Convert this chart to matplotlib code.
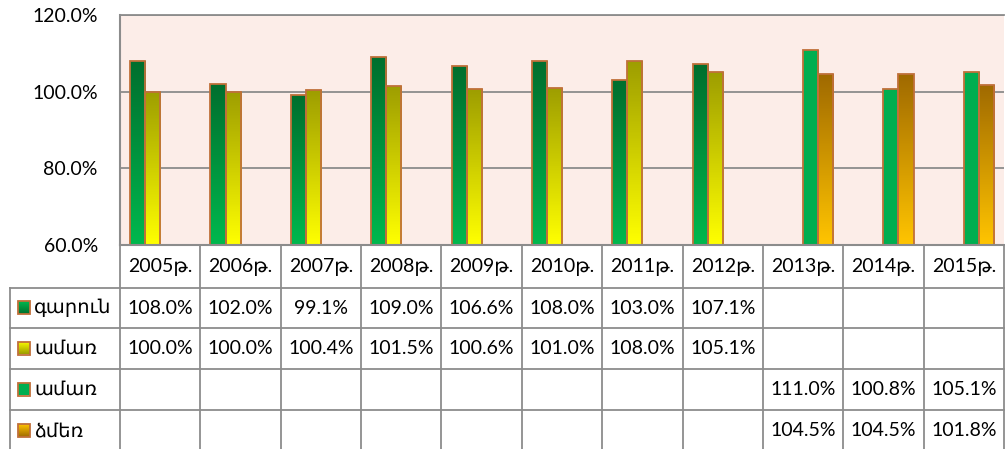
import numpy as np
import matplotlib.pyplot as plt
from matplotlib.colors import LinearSegmentedColormap
from matplotlib.patches import Rectangle

plt.rcParams['font.family'] = ['Lato', 'DejaVu Sans']

years = ['2005թ.', '2006թ.', '2007թ.', '2008թ.', '2009թ.', '2010թ.',
         '2011թ.', '2012թ.', '2013թ.', '2014թ.', '2015թ.']
names = ['գարուն', 'ամառ', 'ամառ', 'ձմեռ']
spring = [108.0, 102.0, 99.1, 109.0, 106.6, 108.0, 103.0, 107.1, None, None, None]
summer = [100.0, 100.0, 100.4, 101.5, 100.6, 101.0, 108.0, 105.1, None, None, None]
summer2 = [None] * 8 + [111.0, 100.8, 105.1]
winter = [None] * 8 + [104.5, 104.5, 101.8]
series = [spring, summer, summer2, winter]

# gradients, (bottom colour, top colour)
grads = [('#00B84E', '#006F2E'), ('#FFFF00', '#9E9E00'),
         ('#00AE50', '#00AE50'), ('#FFC400', '#A06A00')]
edge = '#C0703A'
fs = 14

W, H = 1005, 449
fig = plt.figure(figsize=(W / 100, H / 100), dpi=100)
L, R, T, B = 120, 1004, 15, 245
ax = fig.add_axes([L / W, 1 - B / H, (R - L) / W, (B - T) / H])
ax.set_facecolor('#FCEDE8')

n = len(years)
bw = 0.187
offs = [-1.5, -0.5, 0.5, 1.5]
for s, vals in enumerate(series):
    cm = LinearSegmentedColormap.from_list('g%d' % s, list(grads[s]))
    idx = [i for i, v in enumerate(vals) if v is not None]
    hv = [vals[i] - 60 for i in idx]
    bars = ax.bar(np.array(idx) + offs[s] * bw, hv, bw, bottom=60,
                  facecolor='none', edgecolor=edge, linewidth=1.3, zorder=4)
    for p in bars:
        x0, y0, w, h = p.get_x(), p.get_y(), p.get_width(), p.get_height()
        im = ax.imshow(np.linspace(0, 1, 64).reshape(-1, 1), cmap=cm,
                       extent=[x0, x0 + w, y0, y0 + h], origin='lower',
                       aspect='auto', zorder=3)
        im.set_clip_path(p)

ax.set_xlim(-0.5, n - 0.5)
ax.set_ylim(60, 120)
ax.set_yticks([60, 80, 100, 120])
ax.set_yticklabels(['%.1f%%' % v for v in [60, 80, 100, 120]], fontsize=fs)
ax.tick_params(axis='y', length=0, pad=16)
ax.set_xticks([])
ax.grid(axis='y', color='#8C8C8C', linewidth=1.3, zorder=1)
ax.set_axisbelow(True)
for sp in ['right', 'bottom']:
    ax.spines[sp].set_visible(False)
ax.spines['top'].set_color('#8C8C8C')
ax.spines['top'].set_linewidth(1.3)
ax.spines['left'].set_color('#8C8C8C')
ax.spines['left'].set_linewidth(1.5)

# data table below the chart
tax = fig.add_axes([0, 0, 1, 1])
tax.set_xlim(0, W)
tax.set_ylim(H, 0)
tax.axis('off')
lc = '#8C8C8C'
cw = (R - L) / n
xs = [L + i * cw for i in range(n + 1)]
rows = [B, 288, 328, 369, 410, 452]
tx0 = 10

tax.plot([L, R], [B, B], color=lc, lw=1.5)
for y in rows[1:-1]:
    tax.plot([tx0, R], [y, y], color=lc, lw=1.3)
for x in xs:
    tax.plot([x, x], [B, H], color=lc, lw=1.3)
tax.plot([tx0, tx0], [rows[1], H], color=lc, lw=1.3)

for i, yr in enumerate(years):
    tax.text(xs[i] + cw / 2, (rows[0] + rows[1]) / 2, yr, ha='center',
             va='center', fontsize=fs)

for s, vals in enumerate(series):
    yc = (rows[s + 1] + rows[s + 2]) / 2
    cm = LinearSegmentedColormap.from_list('k%d' % s, list(grads[s]))
    key = Rectangle((18, yc - 7), 12, 13, facecolor='none', edgecolor=edge,
                    lw=1.3, zorder=4)
    tax.add_patch(key)
    im = tax.imshow(np.linspace(0, 1, 32).reshape(-1, 1), cmap=cm,
                    extent=[18, 30, yc + 6, yc - 7], origin='upper',
                    aspect='auto', zorder=3)
    im.set_clip_path(key)
    tax.text(34, yc, names[s], ha='left', va='center', fontsize=fs)
    for i, v in enumerate(vals):
        if v is not None:
            tax.text(xs[i] + cw / 2, yc, '%.1f%%' % v, ha='center',
                     va='center', fontsize=fs)
tax.set_xlim(0, W)
tax.set_ylim(H, 0)

fig.savefig('out.png', dpi=100)
